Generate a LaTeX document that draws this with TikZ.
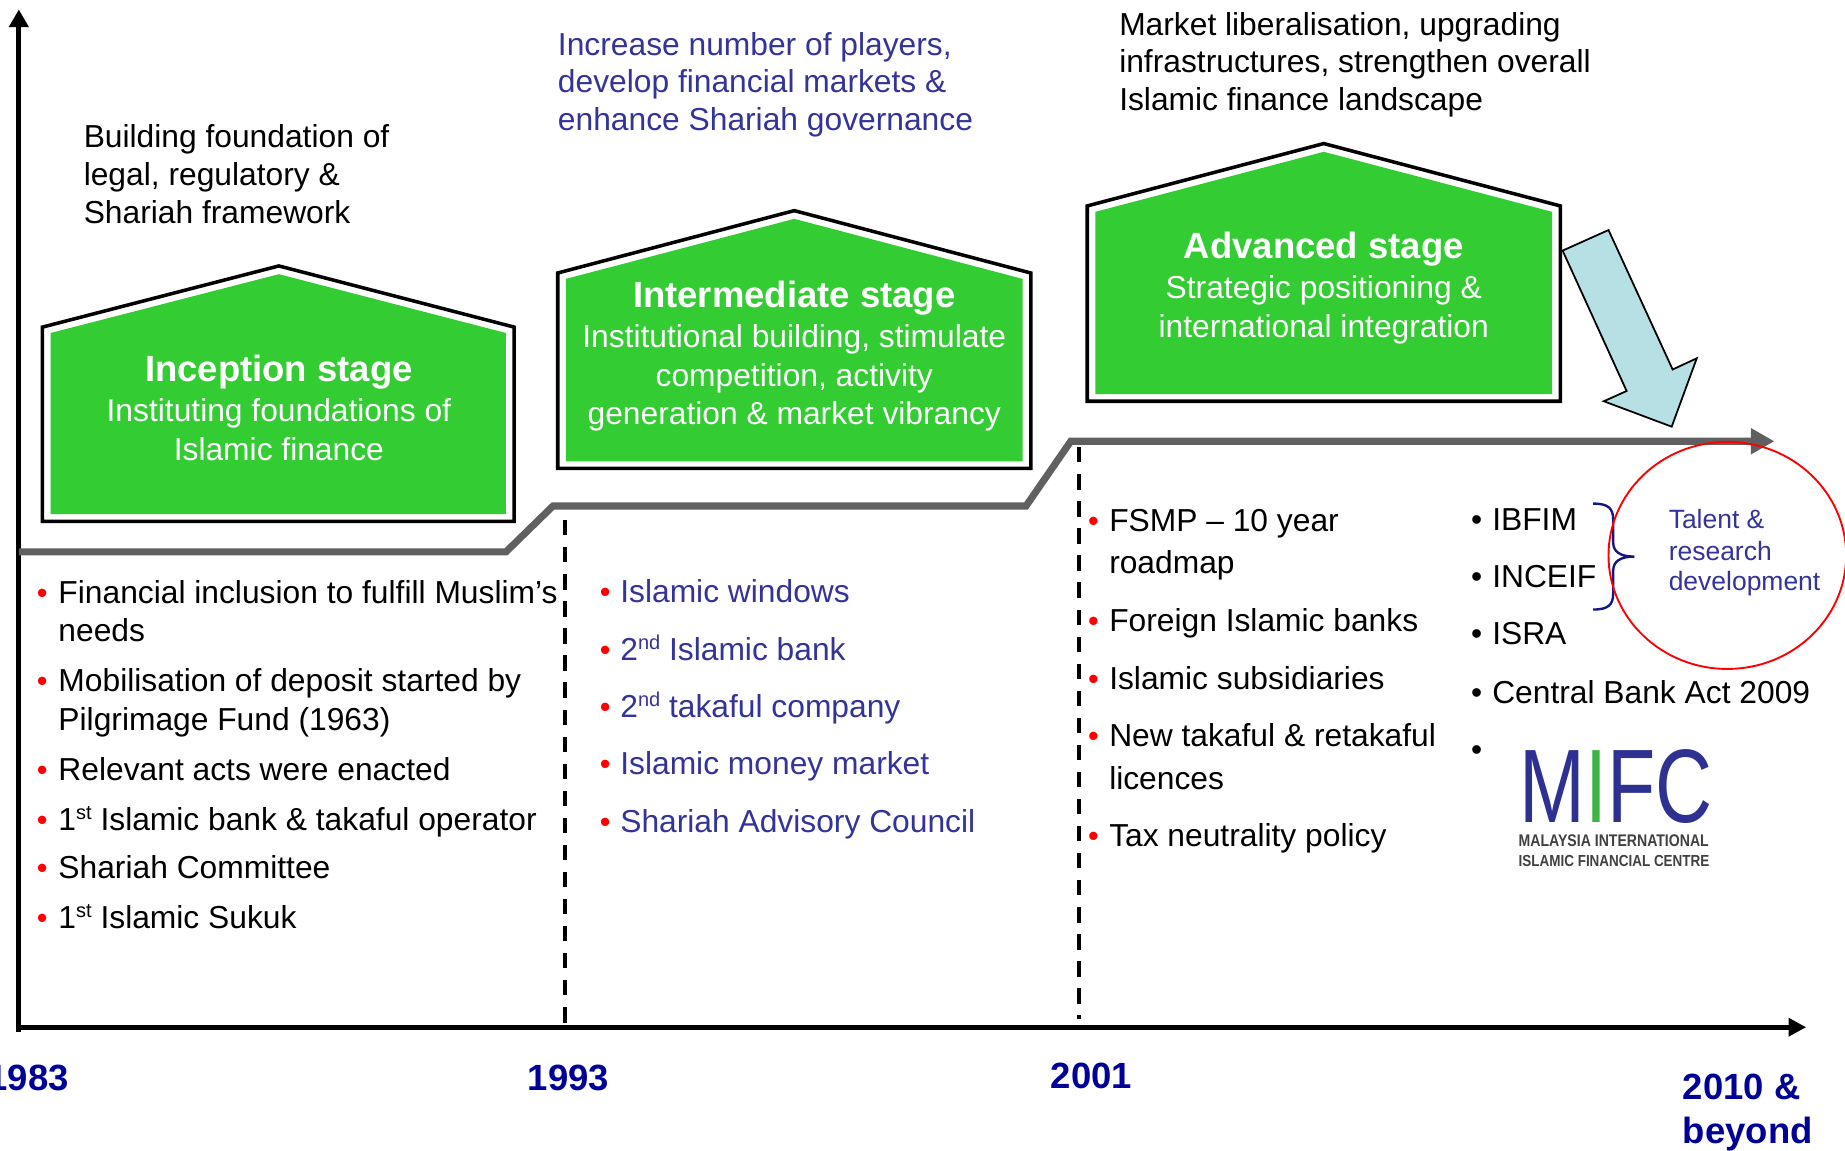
\documentclass[tikz,border=0pt]{standalone}
\usepackage{fontspec}
\setmainfont{Liberation Sans}
\usetikzlibrary{arrows.meta}
\definecolor{stagegreen}{RGB}{51,204,51}
\definecolor{txtblue}{RGB}{51,51,153}
\definecolor{yearblue}{RGB}{0,0,153}
\definecolor{steppgray}{RGB}{96,96,96}
\definecolor{arrowblue}{RGB}{183,224,228}
\definecolor{bracenavy}{RGB}{20,20,130}
\definecolor{mifcblue}{RGB}{46,49,146}
\definecolor{mifcgreen}{RGB}{60,180,70}
\definecolor{mifcgray}{RGB}{64,64,64}
\newcommand\mysup[1]{\raisebox{9pt}{\fontsize{17}{17}\selectfont #1}}
\tikzset{
  lblk/.style={inner sep=0pt, anchor=base west, font=\fontsize{27}{33}\selectfont, text=black},
  lblu/.style={lblk, text=txtblue},
  htitle/.style={inner sep=0pt, anchor=base, font=\fontsize{31}{38}\selectfont\bfseries, text=white},
  hsub/.style={inner sep=0pt, anchor=base, font=\fontsize{27}{33}\selectfont, text=white},
  rbul/.style={inner sep=0pt, anchor=base west, font=\fontsize{26}{30}\selectfont, text=red},
  kbul/.style={inner sep=0pt, anchor=base west, font=\fontsize{27}{33}\selectfont, text=black},
  yearlbl/.style={inner sep=0pt, anchor=base, font=\fontsize{31}{38}\selectfont\bfseries, text=yearblue},
  yearlblw/.style={yearlbl, anchor=base west},
  talent/.style={inner sep=0pt, anchor=base west, font=\fontsize{22.5}{27}\selectfont, text=txtblue},
  houseout/.style={draw=black, line width=3pt, fill=white, line join=miter},
  housein/.style={fill=stagegreen},
  axisline/.style={draw=black, line width=4.5pt},
  dashline/.style={draw=black, line width=3.4pt, dash pattern=on 13pt off 10pt},
  stepline/.style={draw=steppgray, line width=6pt, line join=miter},
  blockarrow/.style={draw=black, line width=1.5pt, fill=arrowblue, line join=miter},
}
\begin{document}
\begin{tikzpicture}[x=1pt,y=-1pt]
\useasboundingbox (0,0) rectangle (1568,978);

% axes
\draw[axisline, -{Triangle[length=15pt,width=16pt]}] (16,877) -- (16,8);
\draw[axisline, -{Triangle[length=15pt,width=15pt]}] (14,873) -- (1535,873);

% dashed period separators
\draw[dashline] (480,442) -- (480,877);
\draw[dashline] (917,380) -- (917,866);

% step line
\draw[stepline, -{Triangle[length=20pt,width=21pt]}] (16,469) -- (430,469) -- (470,430) -- (872,430) -- (910,375) -- (1508,375);

% houses
\draw[houseout] (36,443) -- (36,278) -- (237,226) -- (437,278) -- (437,443) -- cycle;
\fill[housein] (43,437) -- (43,283) -- (237,233) -- (430,283) -- (430,437) -- cycle;
\draw[houseout] (474,398) -- (474,232) -- (675,179) -- (876,232) -- (876,398) -- cycle;
\fill[housein] (481,392) -- (481,237) -- (675,186) -- (869,237) -- (869,392) -- cycle;
\draw[houseout] (924,341) -- (924,175) -- (1125,122) -- (1326,175) -- (1326,341) -- cycle;
\fill[housein] (931,335) -- (931,180) -- (1125,129) -- (1319,180) -- (1319,335) -- cycle;

% house texts
\node[htitle] (h1t) at (237,324) {Inception stage};
\node[hsub] (h1a) at (237,358) {Instituting foundations of};
\node[hsub] (h1b) at (237,391) {Islamic finance};
\node[htitle] (h2t) at (675,261) {Intermediate stage};
\node[hsub] (h2a) at (675,295.5) {Institutional building, stimulate};
\node[hsub] (h2b) at (675,328.5) {competition, activity};
\node[hsub] (h2c) at (675,361) {generation \& market vibrancy};
\node[htitle] (h3t) at (1125,220) {Advanced stage};
\node[hsub] (h3a) at (1125,254) {Strategic positioning \&};
\node[hsub] (h3b) at (1125,287) {international integration};

% top descriptions
\node[lblk] (ta1) at (71,125) {Building foundation of};
\node[lblk] (ta2) at (71,157.5) {legal, regulatory \&};
\node[lblk] (ta3) at (71,190) {Shariah framework};
\node[lblu] (tb1) at (474,47) {Increase number of players,};
\node[lblu] (tb2) at (474,79) {develop financial markets \&};
\node[lblu] (tb3) at (474,111) {enhance Shariah governance};
\node[lblk] (tc1) at (951,30) {Market liberalisation, upgrading};
\node[lblk] (tc2) at (951,61.5) {infrastructures, strengthen overall};
\node[lblk] (tc3) at (951,93.5) {Islamic finance landscape};

% column 1
\node[rbul] (b1a) at (31.2,512.7) {•};
\node[lblk] (c1a) at (49.5,512.7) {Financial inclusion to fulfill Muslim’s};
\node[lblk] (c1a2) at (49.5,545.5) {needs};
\node[rbul] (b1b) at (31.2,588) {•};
\node[lblk] (c1b) at (49.5,588) {Mobilisation of deposit started by};
\node[lblk] (c1b2) at (49.5,620.5) {Pilgrimage Fund (1963)};
\node[rbul] (b1c) at (31.2,663) {•};
\node[lblk] (c1c) at (49.5,663) {Relevant acts were enacted};
\node[rbul] (b1d) at (31.2,705.4) {•};
\node[lblk] (c1d) at (49.5,705.4) {1\mysup{st} Islamic bank \& takaful operator};
\node[rbul] (b1e) at (31.2,746.5) {•};
\node[lblk] (c1e) at (49.5,746.5) {Shariah Committee};
\node[rbul] (b1f) at (31.2,789) {•};
\node[lblk] (c1f) at (49.5,789) {1\mysup{st} Islamic Sukuk};

% column 2
\node[rbul] (b2a) at (509.5,512.4) {•};
\node[lblu] (c2a) at (527,512.4) {Islamic windows};
\node[rbul] (b2b) at (509.5,561) {•};
\node[lblu] (c2b) at (527,561) {2\mysup{nd} Islamic bank};
\node[rbul] (b2c) at (509.5,609.5) {•};
\node[lblu] (c2c) at (527,609.5) {2\mysup{nd} takaful company};
\node[rbul] (b2d) at (509.5,658.5) {•};
\node[lblu] (c2d) at (527,658.5) {Islamic money market};
\node[rbul] (b2e) at (509.5,707.5) {•};
\node[lblu] (c2e) at (527,707.5) {Shariah Advisory Council};

% column 3
\node[rbul] (b3a) at (924.5,452) {•};
\node[lblk] (c3a) at (942.5,452) {FSMP – 10 year};
\node[lblk] (c3a2) at (942.5,487) {roadmap};
\node[rbul] (b3b) at (924.5,537) {•};
\node[lblk] (c3b) at (942.5,537) {Foreign Islamic banks};
\node[rbul] (b3c) at (924.5,585.6) {•};
\node[lblk] (c3c) at (942.5,585.6) {Islamic subsidiaries};
\node[rbul] (b3d) at (924.5,634.6) {•};
\node[lblk] (c3d) at (942.5,634.6) {New takaful \& retakaful};
\node[lblk] (c3d2) at (942.5,670.6) {licences};
\node[rbul] (b3e) at (924.5,719.6) {•};
\node[lblk] (c3e) at (942.5,719.6) {Tax neutrality policy};

% column 4
\node[kbul] (b4a) at (1250,450.6) {•};
\node[lblk] (c4a) at (1268,450.6) {IBFIM};
\node[kbul] (b4b) at (1250,499) {•};
\node[lblk] (c4b) at (1268,499) {INCEIF};
\node[kbul] (b4c) at (1250,547.6) {•};
\node[lblk] (c4c) at (1268,547.6) {ISRA};
\node[kbul] (b4d) at (1250,597.5) {•};
\node[lblk] (c4d) at (1268,597.5) {Central Bank Act 2009};
\node[kbul] (b4e) at (1250,646) {•};

% MIFC logo
\node[inner sep=0pt, anchor=base west] (mifc) at (1291,699)
  {\resizebox{164pt}{62pt}{\color{mifcblue}M\textcolor{mifcgreen}{I}FC}};
\node[inner sep=0pt, anchor=base west, text=mifcgray] (mifc1) at (1290.5,719.6)
  {\resizebox{161.5pt}{10pt}{\bfseries MALAYSIA INTERNATIONAL}};
\node[inner sep=0pt, anchor=base west, text=mifcgray] (mifc2) at (1290.5,736)
  {\resizebox{162pt}{9.5pt}{\bfseries ISLAMIC FINANCIAL CENTRE}};

% brace
\draw[bracenavy, line width=2pt]
  (1354,428) .. controls (1367,428) and (1371,432) .. (1371,442) -- (1371,461)
  .. controls (1371,469) and (1377,473) .. (1389,473)
  .. controls (1377,473) and (1371,477) .. (1371,485) -- (1371,504)
  .. controls (1371,514) and (1367,518) .. (1354,518);

% talent circle
\draw[red, line width=1.6pt] (1468,472) ellipse [x radius=101pt, y radius=96.5pt];
\node[talent] (tal1) at (1418,449) {Talent \&};
\node[talent] (tal2) at (1418,476) {research};
\node[talent] (tal3) at (1418,502) {development};

% block arrow
\draw[blockarrow] (1328,213) -- (1367,195.5) -- (1421.5,314) -- (1442,304.5) -- (1420.7,362.6) -- (1363,341) -- (1382.4,332.3) -- cycle;

% years
\node[yearlbl] (y83) at (24,927) {1983};
\node[yearlbl] (y93) at (483,927) {1993};
\node[yearlbl] (y01) at (927.5,925) {2001};
\node[yearlblw] (y10a) at (1430,934) {2010 \&};
\node[yearlblw] (y10b) at (1430,972) {beyond};
\end{tikzpicture}
\end{document}
